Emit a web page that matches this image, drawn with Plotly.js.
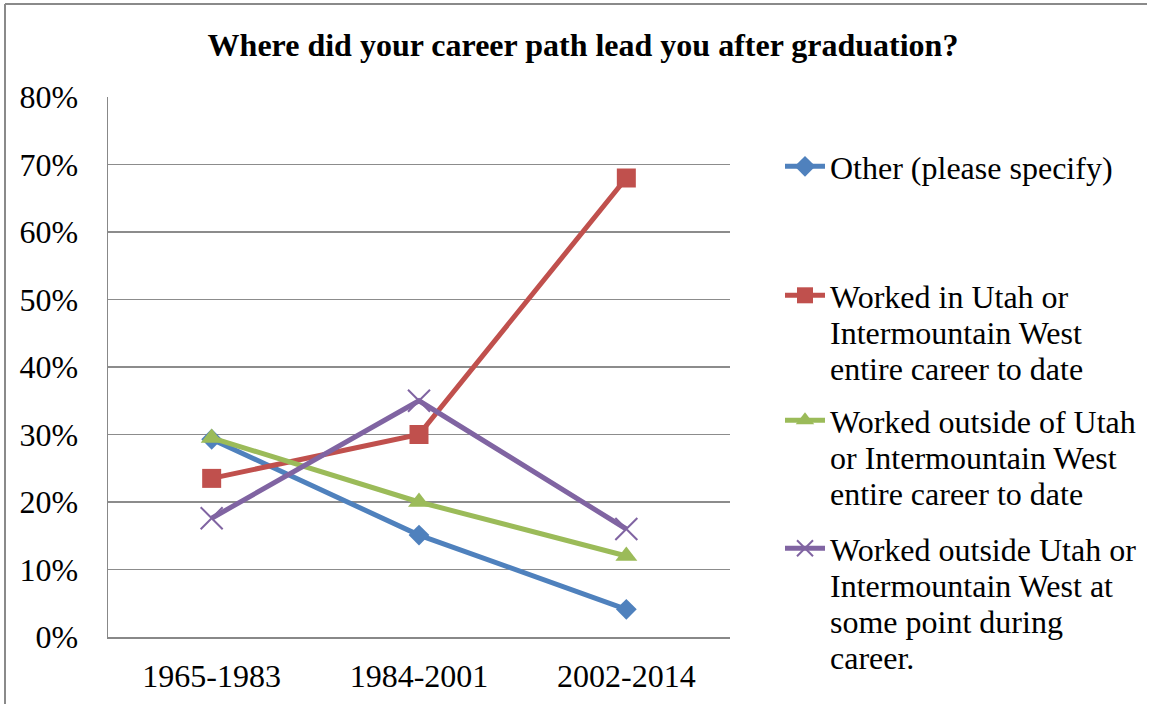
<!DOCTYPE html>
<html><head><meta charset="utf-8">
<script src="https://cdn.plot.ly/plotly-3.0.1.min.js"></script>
<style>html,body{margin:0;padding:0;background:#fff;}#chart{width:1159px;height:704px;}</style>
</head><body><div id="chart"></div>
<script>
const categories = ['1965-1983', '1984-2001', '2002-2014'];
const seriesNames = [
  'Other (please specify)',
  'Worked in Utah or<br>Intermountain West<br>entire career to date',
  'Worked outside of Utah<br>or Intermountain West<br>entire career to date',
  'Worked outside Utah or<br>Intermountain West at<br>some point during<br>career.'
];
const otherVals = [0.293, 0.151, 0.041];
const utahVals = [0.235, 0.300, 0.680];
const outsideEntireVals = [0.295, 0.200, 0.120];
const outsideSomeVals = [0.176, 0.350, 0.160];
const yTicks = [0, 0.1, 0.2, 0.3, 0.4, 0.5, 0.6, 0.7, 0.8];

const W = 1159, H = 704;
const M = {l: 108, r: 429, t: 97, b: 67};
const pw = W - M.l - M.r, ph = H - M.t - M.b;
const px = x => (x - M.l) / pw;
const py = y => (H - M.b - y) / ph;

const font = 'Liberation Serif, Times New Roman, serif';
const FS = 32;
const colors = ['#4F81BD', '#C0504D', '#9BBB59', '#8064A2'];
const symbols = ['diamond', 'square', 'triangle-up', 'x-thin'];
const sizes = [16, 19, 19, 22];
const vals = [otherVals, utahVals, outsideEntireVals, outsideSomeVals];
const legendIds = ['legend', 'legend2', 'legend3', 'legend4'];

const traces = vals.map((v, i) => ({
  type: 'scatter', mode: 'lines+markers',
  x: categories, y: v, name: seriesNames[i],
  line: {color: colors[i], width: 5},
  marker: {symbol: symbols[i], size: sizes[i], color: colors[i],
           line: {color: colors[i], width: i === 3 ? 2 : 0}},
  legend: legendIds[i], showlegend: true
}));

const legendFirstLineY = [168, 297, 422, 550];
const legendBase = {
  xref: 'container', yref: 'container',
  x: 780 / W, xanchor: 'left', yanchor: 'top', valign: 'top',
  font: {family: font, size: FS, color: '#000'},
  bgcolor: 'rgba(0,0,0,0)', itemwidth: 40, tracegroupgap: 0, visible: true
};
const layout = {
  width: W, height: H, margin: M, showlegend: true,
  paper_bgcolor: '#fff', plot_bgcolor: '#fff',
  title: {text: '<b>Where did your career path lead you after graduation?</b>',
          font: {family: font, size: FS, color: '#000'},
          x: px(583), xanchor: 'center', xref: 'paper', y: 1 - 45 / H, yanchor: 'middle'},
  xaxis: {type: 'category', range: [-0.5, 2.5], showgrid: false,
          showline: true, linecolor: '#888', linewidth: 1.5,
          ticks: 'outside', ticklen: 10, tickcolor: 'rgba(0,0,0,0)',
          tickfont: {family: font, size: FS, color: '#000'}, fixedrange: true},
  yaxis: {range: [0, 0.8], tickvals: yTicks, tickformat: '.0%',
          showgrid: true, gridcolor: '#8c8c8c', gridwidth: 1.5,
          showline: true, linecolor: '#888', linewidth: 1.5, zeroline: false,
          ticks: 'outside', ticklen: 22, tickcolor: 'rgba(0,0,0,0)',
          tickfont: {family: font, size: FS, color: '#000'}, fixedrange: true},
  shapes: [
    {type: 'line', xref: 'paper', yref: 'paper', x0: px(5), x1: px(5), y0: py(4), y1: py(710),
     line: {color: '#8a8a8a', width: 2}},
    {type: 'line', xref: 'paper', yref: 'paper', x0: px(5), x1: px(1147), y0: py(4), y1: py(4),
     line: {color: '#8a8a8a', width: 2}}
  ]
};
legendIds.forEach((id, i) => {
  layout[id] = Object.assign({}, legendBase, {y: 1 - (legendFirstLineY[i] - 29) / H});
});
const gd = document.getElementById('chart');
const factor = 36 / (1.3 * FS);
const textSel = legendIds.map(id => 'text.' + id + 'text tspan.line').join(', ');
function tighten() {
  gd.querySelectorAll(textSel).forEach(t => {
    if (t.getAttribute('data-tight')) return;
    const dy = t.getAttribute('dy');
    if (dy && /em$/.test(dy)) t.setAttribute('dy', (parseFloat(dy) * factor) + 'em');
    t.setAttribute('data-tight', '1');
  });
}
new MutationObserver(tighten).observe(gd, {childList: true, subtree: true});
Plotly.newPlot(gd, traces, layout, {displayModeBar: false, staticPlot: true}).then(() => {
  tighten();
  [20, 100, 300].forEach(t => setTimeout(tighten, t));
});
</script></body></html>
